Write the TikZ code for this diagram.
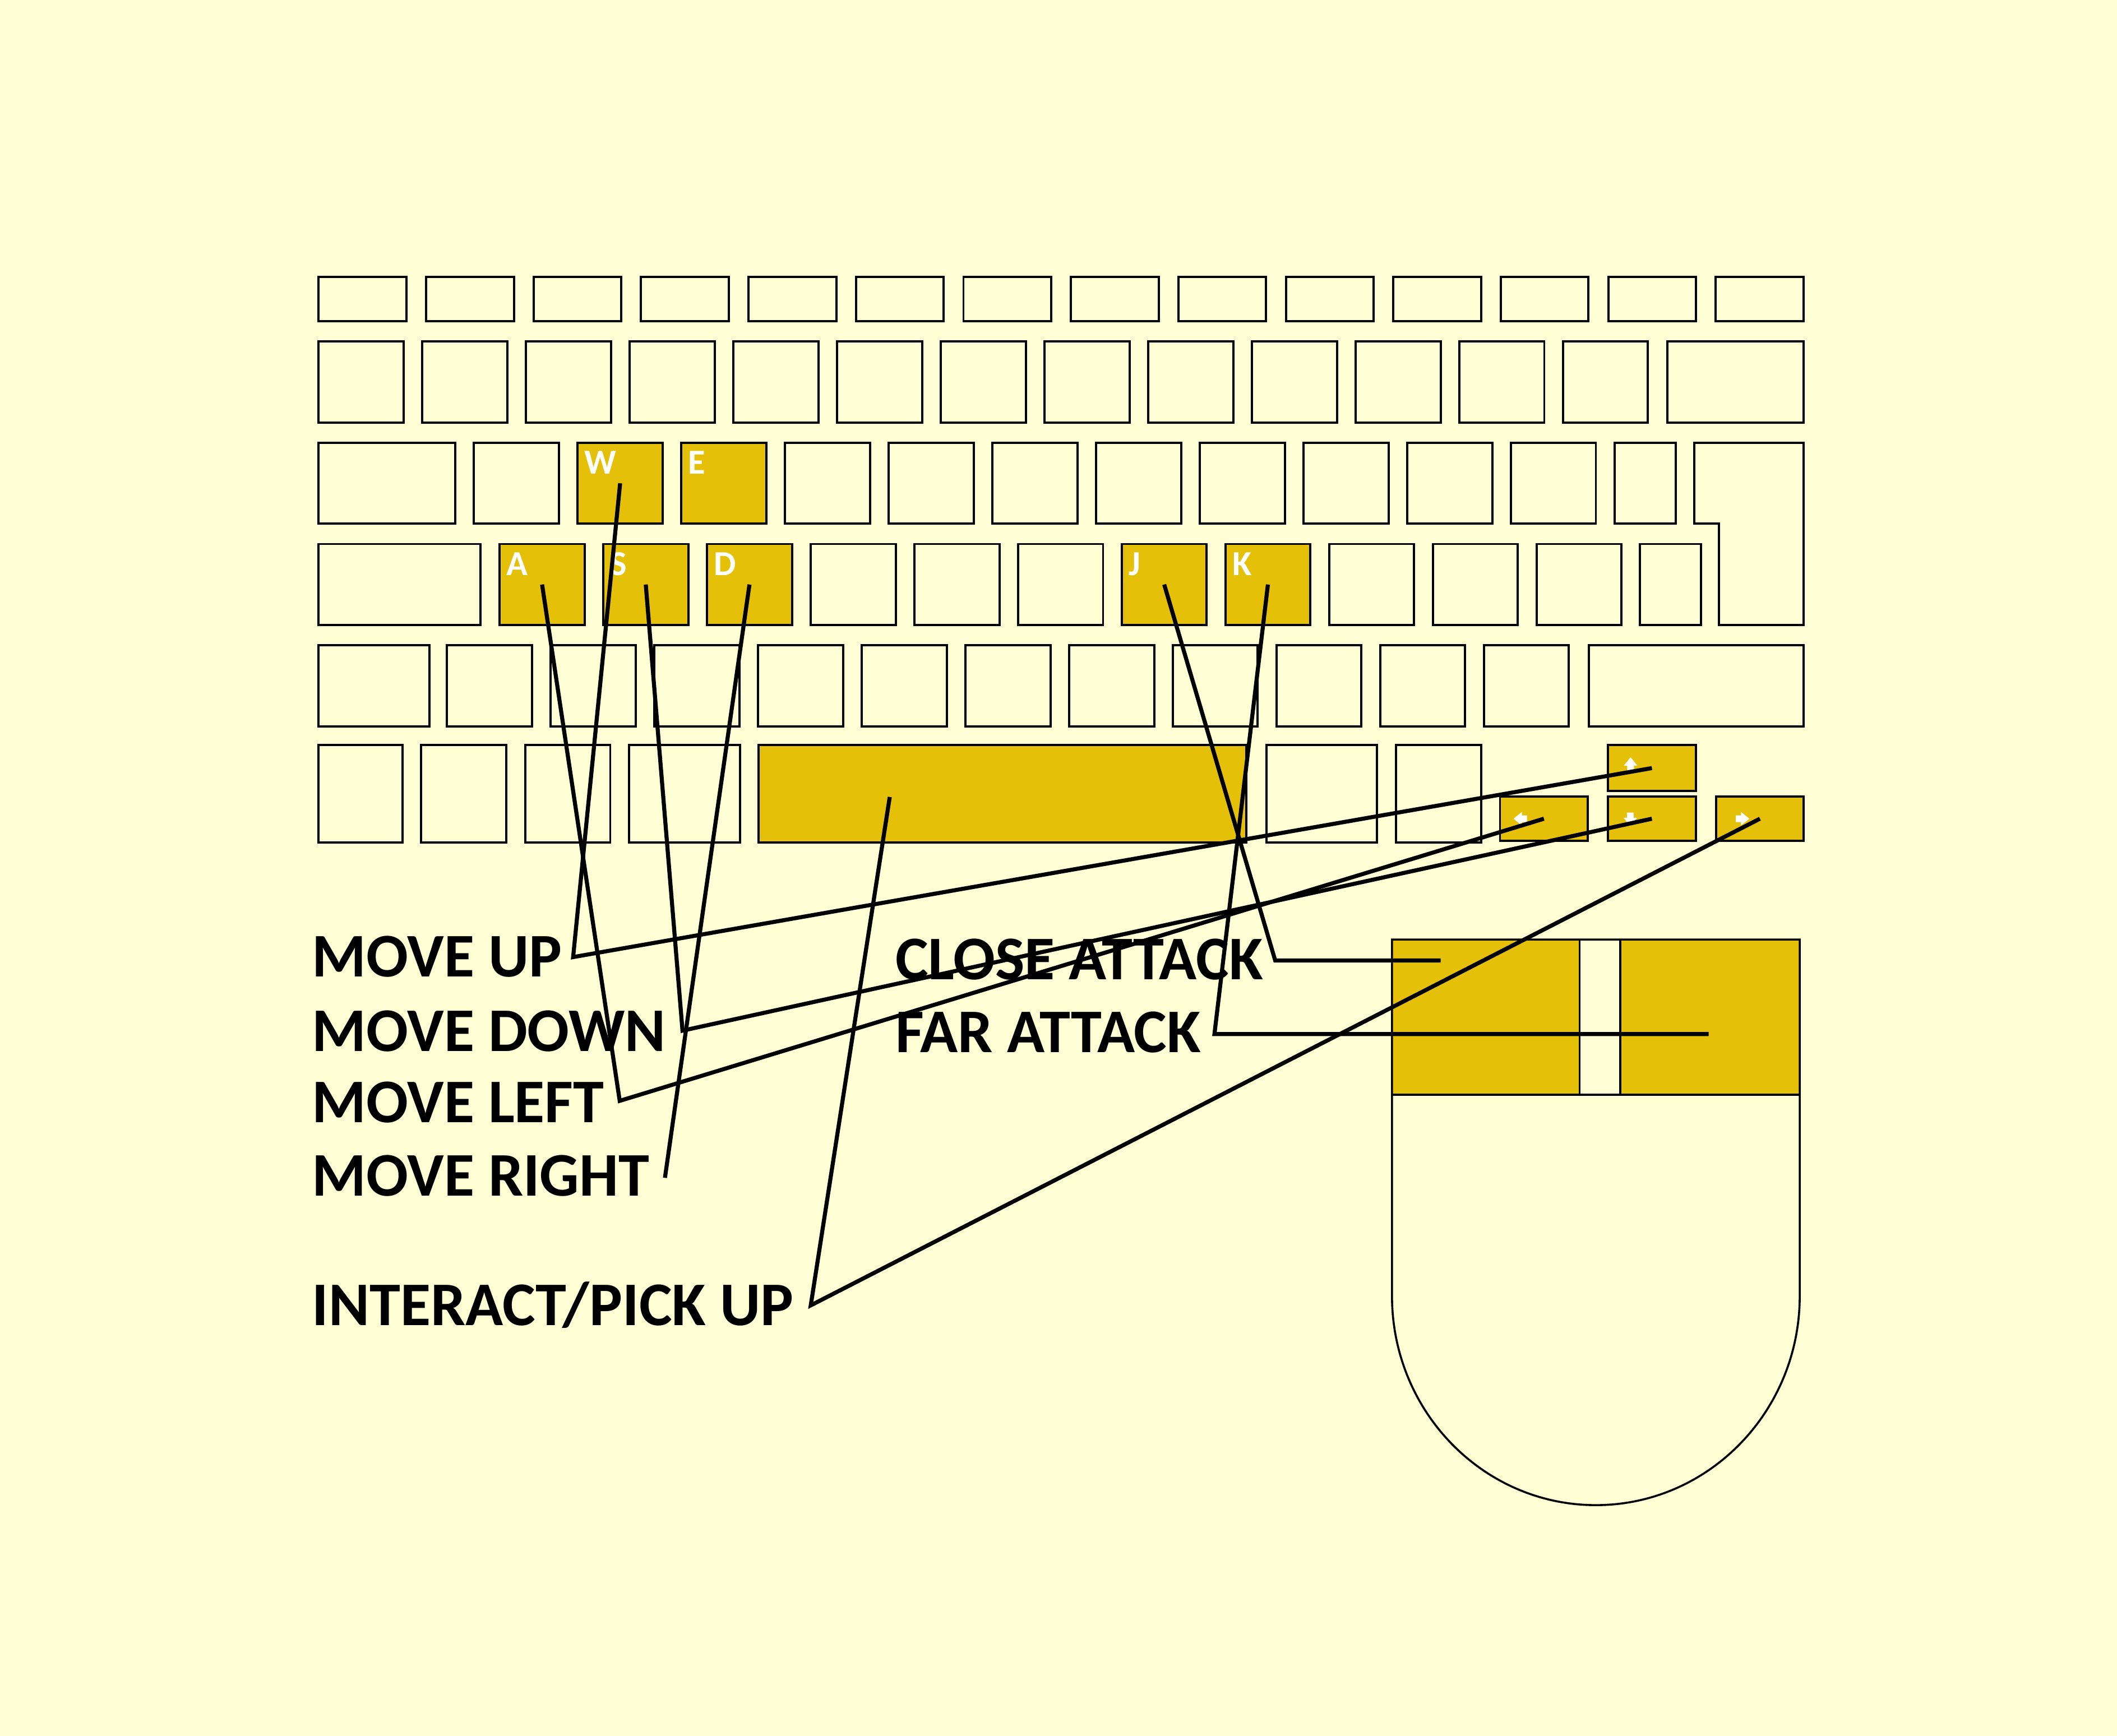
\documentclass[tikz,border=0pt]{standalone}
\usepackage{fontspec}
\setmainfont{Carlito}
\definecolor{bg}{RGB}{255,255,213}
\definecolor{gold}{RGB}{228,192,8}
\begin{document}
\begin{tikzpicture}[x=1pt,y=-1pt,
  key/.style={draw=black,line width=1.65pt},
  hkey/.style={draw=black,line width=1.65pt,fill=gold,rectangle,inner sep=0pt,outer sep=0pt},
  klbl/.style={text=white,font=\bfseries\fontsize{26}{26}\selectfont,inner sep=0pt,anchor=north west},
  lbl/.style={font=\bfseries\fontsize{46}{46}\selectfont,inner sep=0pt,anchor=base west},
  conn/.style={draw=black,line width=3pt},
  mouseline/.style={draw=black,line width=1.5pt},
  arr/.pic={\fill[white] (0,-5) -- (5,1.2) -- (2.5,1.2) -- (2.5,5) -- (-2.5,5) -- (-2.5,1.2) -- (-5,1.2) -- cycle;}]
\fill[bg] (0,0) rectangle (1568,1286);
\useasboundingbox (0,0) rectangle (1568,1286);
% row 1
\foreach \i in {0,...,13} \draw[key] ({236+\i*79.6},205) rectangle ++(65,33);
% row 2
\foreach \i in {0,...,12} \draw[key] ({236+\i*76.8},253) rectangle ++(63,60);
\draw[key] (1235,253) rectangle (1336,313);
% row 3
\draw[key] (236,328) rectangle (337,388);
\foreach \i in {0,3,4,5,6,7,8,9,10} \draw[key] ({351+\i*76.8},328) rectangle ++(63,60);
\draw[key] (1195.8,328) rectangle (1241,388);
\draw[key] (1255,328) -- (1336,328) -- (1336,463) -- (1273,463) -- (1273,388) -- (1255,388) -- cycle;
\node[hkey,minimum width=63pt,minimum height=60pt] (W) at (459.3,358) {};
\node[hkey,minimum width=63pt,minimum height=60pt] (E) at (536.1,358) {};
% row 4
\draw[key] (236,403) rectangle (356,463);
\foreach \i in {3,4,5,8,9,10} \draw[key] ({370+\i*76.8},403) rectangle ++(63,60);
\draw[key] (1214.8,403) rectangle (1260,463);
\node[hkey,minimum width=63pt,minimum height=60pt] (A) at (401.5,433) {};
\node[hkey,minimum width=63pt,minimum height=60pt] (S) at (478.3,433) {};
\node[hkey,minimum width=63pt,minimum height=60pt] (D) at (555.1,433) {};
\node[hkey,minimum width=63pt,minimum height=60pt] (J) at (862.3,433) {};
\node[hkey,minimum width=63pt,minimum height=60pt] (K) at (939.1,433) {};
% row 5
\draw[key] (236,478) rectangle (318,538);
\foreach \i in {0,...,10} \draw[key] ({331+\i*76.8},478) rectangle ++(63,60);
\draw[key] (1177,478) rectangle (1336,538);
% row 6
\draw[key] (236,552) rectangle (298,624);
\draw[key] (312,552) rectangle (375,624);
\draw[key] (389,552) rectangle (452,624);
\draw[key] (466,552) rectangle (548,624);
\draw[key] (938,552) rectangle (1020,624);
\draw[key] (1034,552) rectangle (1097,624);
\node[hkey,minimum width=361pt,minimum height=72pt] (Space) at (742.5,588) {};
\node[hkey,minimum width=65pt,minimum height=34pt] (Up) at (1223.5,569) {};
\node[hkey,minimum width=65pt,minimum height=33pt] (Left) at (1143.5,606.5) {};
\node[hkey,minimum width=65pt,minimum height=33pt] (Down) at (1223.5,606.5) {};
\node[hkey,minimum width=65pt,minimum height=33pt] (Right) at (1303.5,606.5) {};
% key letters
\foreach \k in {W,E,A,S,D,J,K}
  \node[klbl,xshift=5pt,yshift=-6pt] (t\k) at (\k.north west) {\k};
\pic at (1207.7,566) {arr};
\pic[rotate=90] at (1126,606.5) {arr};
\pic[rotate=180] at (1207.5,607) {arr};
\pic[rotate=-90] at (1290.7,606.5) {arr};
% mouse
\fill[gold] (1031,696) rectangle (1170,811);
\fill[gold] (1200,696) rectangle (1333,811);
\draw[mouseline] (1031,696) -- (1031,960) .. controls (1031,1045.6) and (1098.6,1115) .. (1182,1115)
  .. controls (1265.4,1115) and (1333,1045.6) .. (1333,960) -- (1333,696) -- cycle;
\draw[mouseline] (1031,811) -- (1333,811);
\draw[mouseline] (1170,696) -- (1170,811);
\draw[mouseline] (1200,696) -- (1200,811);
% labels
\node[lbl] (lUp) at (231,723.5) {MOVE UP};
\node[lbl] (lDown) at (231,779) {MOVE DOWN};
\node[lbl] (lLeft) at (231,831.5) {MOVE LEFT};
\node[lbl] (lRight) at (231,886) {MOVE RIGHT};
\node[lbl] (lInt) at (231,982) {INTERACT/PICK UP};
\node[lbl] (lClose) at (663,725.5) {CLOSE ATTACK};
\node[lbl] (lFar) at (663,779.5) {FAR ATTACK};
% connector points
\coordinate (cUp) at (424.5,709);
\coordinate (cDown) at (505.5,763.5);
\coordinate (cLeft) at (459,815.5);
\coordinate (eRight) at (492.5,872.5);
\coordinate (sp) at (659,590.4);
\coordinate (cInt) at (600.5,967);
\coordinate (cClose) at (944.5,711.5);
\coordinate (eClose) at (1067,711.5);
\coordinate (cFar) at (899.5,766);
\coordinate (eFar) at (1265.5,766);
% connectors
\draw[conn] (W.center) -- (cUp) -- (Up.center);
\draw[conn] (S.center) -- (cDown) -- (Down.center);
\draw[conn] (A.center) -- (cLeft) -- (Left.center);
\draw[conn] (D.center) -- (eRight);
\draw[conn] (sp) -- (cInt) -- (Right.center);
\draw[conn] (J.center) -- (cClose) -- (eClose);
\draw[conn] (K.center) -- (cFar) -- (eFar);
\end{tikzpicture}
\end{document}
